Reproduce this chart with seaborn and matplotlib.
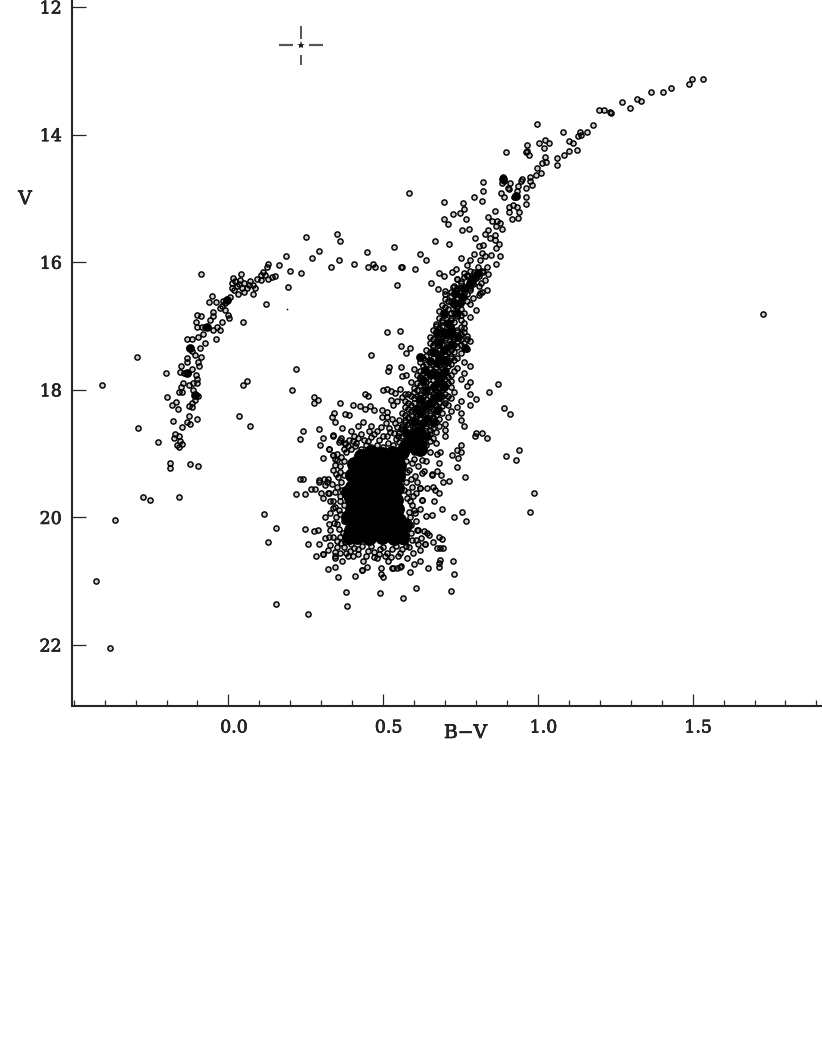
import matplotlib
matplotlib.use("Agg")
import matplotlib.pyplot as plt
import matplotlib.patheffects as pe
from matplotlib.ticker import MultipleLocator, FixedLocator
from matplotlib.transforms import ScaledTranslation
import pandas as pd
import seaborn as sns

# (B-V, V), one list per part of the diagram
giant_tip = [
    (1.533, 13.13), (1.498, 13.13), (1.488, 13.21), (1.430, 13.27), (1.403, 13.33), (1.366, 13.33),
    (1.333, 13.48), (1.321, 13.44), (1.297, 13.59), (1.271, 13.49), (1.235, 13.66), (1.233, 13.65),
    (1.214, 13.62), (1.199, 13.62), (1.177, 13.85), (1.160, 13.96), (1.137, 13.96), (1.140, 14.01),
    (1.128, 14.02), (1.126, 14.245), (1.080, 13.96), (1.102, 14.10), (1.115, 14.13), (1.099, 14.255),
    (1.084, 14.32), (1.063, 14.37), (1.063, 14.47), (0.997, 13.84), (1.022, 14.08), (1.036, 14.13),
    (1.002, 14.13), (1.019, 14.21), (0.964, 14.17), (0.962, 14.27), (0.966, 14.25), (0.972, 14.32),
    (0.897, 14.27), (1.023, 14.355), (1.027, 14.43), (1.014, 14.45), (0.997, 14.52), (1.009, 14.60),
    (0.995, 14.64), (0.975, 14.67), (0.973, 14.73), (0.981, 14.79), (0.949, 14.70), (0.944, 14.72),
    (0.961, 14.84), (0.936, 14.81), (0.934, 14.88), (0.963, 14.97), (0.960, 15.09), (0.926, 14.96),
    (0.922, 14.98), (0.887, 14.67), (0.889, 14.72), (0.884, 14.76), (0.910, 14.76), (0.903, 14.83),
    (0.906, 14.86), (0.881, 14.91), (0.890, 14.97), (0.824, 14.74), (0.822, 14.88), (0.821, 15.04),
    (0.794, 14.97), (0.583, 14.91), (0.698, 15.05), (0.758, 15.07), (0.762, 15.17), (0.747, 15.23),
    (0.727, 15.25), (0.697, 15.32), (0.711, 15.40), (0.769, 15.32), (0.754, 15.50), (0.777, 15.48),
    (0.907, 15.13), (0.921, 15.11), (0.934, 15.13), (0.906, 15.21), (0.938, 15.21), (0.916, 15.32),
    (0.936, 15.30), (0.860, 15.20), (0.838, 15.29), (0.852, 15.35), (0.867, 15.36), (0.864, 15.43),
    (0.879, 15.38), (0.884, 15.48), (0.838, 15.50), (0.828, 15.55), (0.863, 15.57), (0.796, 15.62),
    (0.846, 15.62), (0.860, 15.65), (0.874, 15.71), (0.864, 15.78), (0.822, 15.73), (0.809, 15.74),
    (0.666, 15.66), (0.712, 15.71), (0.620, 15.87), (0.637, 15.96), (0.560, 16.08), (0.604, 16.11),
    (0.750, 15.94), (0.879, 15.91), (0.864, 16.03), (0.847, 15.89), (0.829, 15.91), (0.819, 15.86),
    (0.794, 15.87), (0.781, 15.96), (0.771, 16.04), (0.813, 15.96), (0.808, 16.07), (0.837, 16.07),
    (0.824, 16.16), (0.792, 16.15), (0.681, 16.17), (0.697, 16.22), (0.724, 16.16), (0.735, 16.10),
    (0.738, 16.27), (0.653, 16.33), (0.678, 16.42), (0.699, 16.445), (0.725, 16.39), (0.747, 16.41),
    (0.770, 16.22), (0.786, 16.30), (0.781, 16.38), (0.817, 16.32), (0.837, 16.43), (0.813, 16.49),
    (0.754, 16.51), (0.736, 16.49),
]

horizontal_branch = [
    (0.250, 15.60), (0.351, 15.55), (0.360, 15.66), (0.535, 15.755), (0.447, 15.84), (0.292, 15.82),
    (0.269, 15.94), (0.186, 15.90), (0.357, 15.96), (0.333, 16.08), (0.405, 16.03), (0.450, 16.07),
    (0.467, 16.03), (0.474, 16.08), (0.500, 16.09), (0.559, 16.08), (0.546, 16.35), (0.235, 16.17),
    (0.200, 16.13), (0.162, 16.05), (0.194, 16.39), (0.121, 16.65), (0.128, 16.03), (0.126, 16.07),
    (0.113, 16.15), (0.105, 16.20), (0.105, 16.28), (0.092, 16.27), (0.151, 16.215), (0.140, 16.23),
    (0.129, 16.26), (0.119, 16.20), (0.087, 16.40), (0.078, 16.50), (0.078, 16.36), (0.070, 16.29),
    (0.059, 16.41), (0.049, 16.33), (0.042, 16.18), (0.038, 16.28), (0.027, 16.38), (0.030, 16.50),
    (0.016, 16.25), (0.011, 16.33), (0.011, 16.41), (0.049, 16.46), (0.020, 16.30), (0.033, 16.34),
    (0.044, 16.40), (0.018, 16.44), (0.065, 16.35), (-0.087, 16.19), (0.047, 16.93), (-0.054, 16.53),
    (-0.064, 16.62), (-0.040, 16.63), (-0.016, 16.61), (-0.005, 16.59), (0.006, 16.55), (-0.012, 16.64),
    (-0.027, 16.72), (-0.011, 16.75), (0.000, 16.83), (0.003, 16.88), (-0.020, 16.68), (-0.049, 16.78),
    (-0.050, 16.85), (-0.101, 16.82), (-0.087, 16.85), (-0.104, 16.94), (-0.061, 16.90), (-0.022, 16.93),
    (-0.037, 17.01), (-0.075, 17.01), (-0.086, 17.02), (-0.101, 17.02), (-0.051, 17.06), (-0.027, 17.06),
    (-0.083, 17.13), (-0.098, 17.17), (-0.040, 17.20), (-0.118, 17.21), (-0.134, 17.21), (-0.076, 17.26),
    (-0.126, 17.35), (-0.118, 17.39), (-0.091, 17.35), (-0.134, 17.50), (-0.134, 17.56), (-0.107, 17.45),
    (-0.089, 17.49), (-0.097, 17.56), (-0.095, 17.62), (-0.153, 17.62), (-0.155, 17.72), (-0.142, 17.73),
    (-0.129, 17.74), (-0.118, 17.68), (-0.104, 17.77), (-0.102, 17.83), (-0.115, 17.89), (-0.100, 17.90),
    (-0.148, 17.90), (-0.154, 17.95), (-0.126, 17.92), (-0.161, 18.04), (-0.151, 18.04), (-0.113, 18.00),
    (-0.104, 18.08), (-0.097, 18.09), (-0.107, 18.16), (-0.118, 18.20), (-0.127, 18.26), (-0.119, 18.27),
    (-0.170, 18.19), (-0.183, 18.23), (-0.163, 18.30), (-0.197, 18.11), (-0.202, 17.74), (-0.295, 17.48),
    (-0.408, 17.92), (-0.127, 18.41), (-0.102, 18.45), (-0.134, 18.50), (-0.124, 18.53), (-0.180, 18.49),
    (-0.150, 18.58), (-0.293, 18.60), (-0.228, 18.82), (-0.172, 18.69), (-0.159, 18.72), (-0.177, 18.76),
    (-0.156, 18.80), (-0.149, 18.85), (-0.167, 18.86), (-0.161, 18.89),
]

outliers = [
    (0.061, 17.86), (0.047, 17.93), (0.034, 18.41), (0.071, 18.56), (0.219, 17.68), (0.207, 18.00),
    (0.277, 18.11), (0.291, 18.16), (0.277, 18.20), (0.241, 18.65), (0.232, 18.77), (0.512, 17.10),
    (0.555, 17.08), (0.461, 17.45), (0.557, 17.32), (0.588, 17.34), (0.575, 17.42), (-0.366, 20.04),
    (-0.276, 19.68), (-0.253, 19.73), (-0.427, 21.00), (-0.382, 22.04), (-0.159, 19.68), (-0.188, 19.15),
    (-0.188, 19.22), (-0.124, 19.16), (-0.098, 19.19), (0.115, 19.95), (0.128, 20.39), (0.154, 20.17),
    (0.154, 21.36), (0.257, 21.51), (1.727, 16.81), (0.987, 19.62), (0.974, 19.92), (0.898, 19.03),
    (0.940, 18.95), (0.930, 19.10), (0.870, 17.91), (0.841, 18.03), (0.889, 18.29), (0.910, 18.38),
    (0.520, 17.64), (0.517, 17.71), (0.558, 17.64), (0.562, 17.79), (0.574, 17.77), (0.359, 18.21),
    (0.404, 18.23), (0.442, 18.06), (0.451, 18.09), (0.499, 18.01), (0.512, 17.99), (0.526, 18.02),
    (0.525, 18.16), (0.539, 18.05), (0.553, 17.98), (0.560, 18.11), (0.572, 18.07), (0.546, 18.18),
    (0.533, 18.24), (0.425, 18.26), (0.442, 18.30), (0.458, 18.25), (0.472, 18.31), (0.495, 18.31),
    (0.512, 18.34), (0.495, 18.43), (0.514, 18.43), (0.334, 18.43), (0.341, 18.37), (0.345, 18.50),
    (0.377, 18.38), (0.390, 18.39), (0.368, 18.60), (0.293, 18.61), (0.307, 18.75), (0.296, 18.86),
    (0.337, 18.72), (0.325, 18.93), (0.359, 18.79), (0.377, 18.85), (0.364, 18.76), (0.396, 18.65),
    (0.420, 18.57), (0.436, 18.50), (0.461, 18.57), (0.493, 18.58), (0.539, 18.52), (0.571, 18.47),
]

# outer stars of the main sequence clump
clump_edge = [
    (0.307, 19.07), (0.339, 19.02), (0.345, 19.09), (0.232, 19.40), (0.240, 19.40), (0.294, 19.41),
    (0.310, 19.39), (0.323, 19.39), (0.294, 19.45), (0.312, 19.49), (0.219, 19.64), (0.247, 19.64),
    (0.266, 19.56), (0.281, 19.55), (0.298, 19.61), (0.321, 19.62), (0.307, 19.70), (0.329, 19.75),
    (0.345, 19.83), (0.312, 19.99), (0.329, 19.93), (0.248, 20.18), (0.277, 20.21), (0.289, 20.19),
    (0.312, 20.32), (0.256, 20.42), (0.292, 20.41), (0.282, 20.60), (0.305, 20.58), (0.323, 20.51),
    (0.329, 20.43), (0.345, 20.61), (0.366, 20.69), (0.321, 20.81), (0.343, 20.78), (0.353, 20.94),
    (0.380, 21.17), (0.382, 21.39), (0.408, 20.91), (0.431, 20.83), (0.447, 20.78), (0.493, 20.80),
    (0.490, 21.19), (0.492, 20.88), (0.498, 20.94), (0.533, 20.79), (0.546, 20.79), (0.558, 20.76),
    (0.588, 20.85), (0.601, 20.73), (0.619, 20.69), (0.646, 20.79), (0.682, 20.77), (0.684, 20.66),
    (0.682, 20.72), (0.725, 20.69), (0.729, 20.88), (0.720, 21.15), (0.606, 21.11), (0.564, 21.27),
    (0.684, 20.48), (0.674, 20.48), (0.694, 20.48), (0.689, 20.34), (0.682, 20.31), (0.661, 20.39),
    (0.635, 20.41), (0.641, 20.25), (0.632, 20.22), (0.648, 20.27), (0.611, 20.20), (0.603, 19.93),
    (0.637, 19.97), (0.658, 19.96), (0.689, 19.87), (0.728, 20.00), (0.754, 19.92), (0.767, 20.05),
    (0.664, 19.75), (0.625, 19.73), (0.619, 19.54), (0.641, 19.54), (0.660, 19.53), (0.668, 19.57),
    (0.681, 19.61), (0.693, 19.45), (0.713, 19.43), (0.765, 19.37), (0.739, 19.21), (0.686, 19.33),
    (0.673, 19.27), (0.658, 19.32), (0.633, 19.27), (0.682, 19.14), (0.722, 19.02), (0.741, 19.07),
    (0.738, 18.95), (0.752, 18.87), (0.751, 18.98), (0.673, 19.00), (0.684, 18.98), (0.797, 18.72),
    (0.799, 18.67), (0.819, 18.67), (0.837, 18.76), (0.337, 18.71), (0.325, 18.93), (0.358, 18.81),
    (0.377, 18.84), (0.339, 19.02), (0.350, 19.10), (0.339, 19.26), (0.361, 19.20), (0.320, 19.44),
    (0.326, 19.62), (0.350, 19.52), (0.339, 19.75), (0.348, 19.99), (0.329, 20.20), (0.345, 20.54),
    (0.305, 20.57), (0.345, 20.64), (0.388, 20.61), (0.404, 20.61), (0.436, 20.69), (0.431, 20.82),
    (0.469, 20.54), (0.479, 20.64), (0.506, 20.61), (0.517, 20.69), (0.528, 20.79), (0.555, 20.77),
    (0.555, 20.56), (0.576, 20.64), (0.619, 20.51), (0.636, 20.41), (0.566, 19.57), (0.592, 19.52),
    (0.619, 19.54), (0.598, 19.67), (0.625, 19.73), (0.592, 19.81), (0.619, 19.86), (0.587, 19.99),
    (0.609, 20.20), (0.592, 20.35), (0.614, 20.41), (0.576, 19.28), (0.592, 19.15), (0.625, 19.31),
    (0.657, 19.33), (0.355, 19.36), (0.360, 19.66), (0.358, 19.88), (0.352, 20.10), (0.360, 20.30),
    (0.372, 20.47), (0.392, 20.52), (0.420, 20.50), (0.450, 20.52), (0.490, 20.50), (0.530, 20.50),
    (0.575, 20.45), (0.590, 20.25), (0.580, 20.08), (0.578, 19.70), (0.575, 19.45), (0.390, 18.78),
    (0.412, 18.83), (0.437, 18.78), (0.462, 18.74), (0.487, 18.78), (0.512, 18.72), (0.535, 18.68),
]

clump_fringe = [
    (0.352, 19.00), (0.365, 19.05), (0.372, 18.93), (0.345, 19.18), (0.362, 19.28), (0.372, 19.12),
    (0.348, 19.32), (0.335, 19.47), (0.365, 19.44), (0.372, 19.33), (0.345, 19.60), (0.368, 19.57),
    (0.360, 19.75), (0.372, 19.80), (0.338, 19.85), (0.362, 19.95), (0.372, 20.05), (0.340, 20.08),
    (0.325, 20.10), (0.358, 20.18), (0.370, 20.24), (0.338, 20.30), (0.350, 20.37), (0.365, 20.40),
    (0.325, 20.30), (0.352, 20.47), (0.362, 20.55), (0.378, 20.38), (0.380, 20.55), (0.395, 20.42),
    (0.405, 20.48), (0.418, 20.57), (0.432, 20.44), (0.445, 20.60), (0.462, 20.45), (0.470, 20.62),
    (0.485, 20.57), (0.500, 20.46), (0.512, 20.55), (0.525, 20.62), (0.540, 20.44), (0.548, 20.60),
    (0.562, 20.50), (0.572, 20.38), (0.585, 20.47), (0.598, 20.55), (0.605, 20.35), (0.622, 20.32),
    (0.590, 20.12), (0.605, 20.05), (0.582, 19.92), (0.600, 19.88), (0.588, 19.75), (0.605, 19.62),
    (0.580, 19.60), (0.590, 19.40), (0.603, 19.35), (0.612, 19.20), (0.585, 19.25), (0.600, 19.08),
    (0.575, 19.12), (0.625, 19.10), (0.640, 19.12), (0.610, 19.45), (0.380, 18.98), (0.395, 18.92),
    (0.410, 18.88), (0.428, 18.92), (0.445, 18.87), (0.462, 18.90), (0.480, 18.86), (0.498, 18.89),
    (0.515, 18.84), (0.533, 18.87), (0.550, 18.82), (0.385, 18.88), (0.402, 18.80), (0.420, 18.76),
    (0.450, 18.80), (0.470, 18.70), (0.500, 18.72), (0.522, 18.66), (0.548, 18.72), (0.558, 18.62),
    (0.545, 18.58), (0.520, 18.60), (0.480, 18.65), (0.510, 18.52), (0.530, 18.45), (0.455, 18.65),
    (0.430, 18.70), (0.405, 18.72),
]

giant_band = [
    (0.76, 16.17), (0.78, 16.13), (0.80, 16.19), (0.82, 16.14), (0.84, 16.18), (0.74, 16.27),
    (0.76, 16.23), (0.78, 16.29), (0.80, 16.24), (0.83, 16.28), (0.73, 16.37), (0.75, 16.33),
    (0.77, 16.38), (0.79, 16.34), (0.81, 16.37), (0.72, 16.47), (0.74, 16.43), (0.76, 16.48),
    (0.78, 16.44), (0.82, 16.46), (0.70, 16.57), (0.72, 16.53), (0.74, 16.58), (0.76, 16.54),
    (0.79, 16.56), (0.81, 16.52), (0.69, 16.67), (0.72, 16.63), (0.74, 16.68), (0.75, 16.62),
    (0.78, 16.66), (0.68, 16.77), (0.71, 16.73), (0.73, 16.78), (0.75, 16.74), (0.76, 16.79),
    (0.80, 16.75), (0.68, 16.87), (0.70, 16.83), (0.72, 16.88), (0.74, 16.84), (0.78, 16.86),
    (0.67, 16.97), (0.69, 16.93), (0.71, 16.98), (0.73, 16.94), (0.76, 16.96), (0.66, 17.07),
    (0.68, 17.03), (0.70, 17.08), (0.72, 17.04), (0.74, 17.07), (0.76, 17.03), (0.65, 17.17),
    (0.67, 17.13), (0.69, 17.18), (0.71, 17.14), (0.73, 17.17), (0.75, 17.13), (0.77, 17.16),
    (0.65, 17.27), (0.67, 17.23), (0.69, 17.28), (0.70, 17.22), (0.72, 17.26), (0.74, 17.23),
    (0.76, 17.27), (0.78, 17.24), (0.64, 17.37), (0.66, 17.33), (0.68, 17.38), (0.70, 17.34),
    (0.72, 17.37), (0.74, 17.33), (0.77, 17.36), (0.64, 17.47), (0.66, 17.43), (0.68, 17.48),
    (0.70, 17.44), (0.72, 17.47), (0.75, 17.43), (0.62, 17.57), (0.65, 17.53), (0.67, 17.58),
    (0.69, 17.54), (0.71, 17.57), (0.73, 17.53), (0.76, 17.56), (0.60, 17.67), (0.63, 17.63),
    (0.65, 17.68), (0.67, 17.64), (0.69, 17.67), (0.71, 17.63), (0.74, 17.66), (0.78, 17.62),
    (0.61, 17.77), (0.63, 17.73), (0.65, 17.78), (0.66, 17.72), (0.68, 17.76), (0.70, 17.73),
    (0.72, 17.77), (0.76, 17.74), (0.59, 17.87), (0.62, 17.83), (0.64, 17.88), (0.66, 17.84),
    (0.68, 17.87), (0.70, 17.83), (0.72, 17.86), (0.75, 17.83), (0.78, 17.88), (0.60, 17.97),
    (0.62, 17.93), (0.64, 17.98), (0.66, 17.94), (0.68, 17.97), (0.70, 17.93), (0.72, 17.96),
    (0.77, 17.94), (0.58, 18.07), (0.60, 18.03), (0.62, 18.08), (0.64, 18.04), (0.66, 18.07),
    (0.68, 18.03), (0.70, 18.06), (0.73, 18.03), (0.78, 18.07), (0.57, 18.17), (0.60, 18.13),
    (0.62, 18.18), (0.64, 18.14), (0.66, 18.17), (0.68, 18.13), (0.70, 18.16), (0.72, 18.13),
    (0.75, 18.17), (0.80, 18.14), (0.57, 18.27), (0.59, 18.23), (0.61, 18.28), (0.63, 18.24),
    (0.65, 18.27), (0.67, 18.23), (0.69, 18.26), (0.71, 18.23), (0.74, 18.27), (0.78, 18.24),
    (0.56, 18.37), (0.59, 18.33), (0.61, 18.38), (0.63, 18.34), (0.65, 18.37), (0.67, 18.33),
    (0.69, 18.36), (0.72, 18.33), (0.75, 18.37), (0.55, 18.47), (0.58, 18.43), (0.60, 18.48),
    (0.62, 18.44), (0.64, 18.47), (0.66, 18.43), (0.68, 18.46), (0.71, 18.43), (0.75, 18.47),
    (0.56, 18.57), (0.58, 18.53), (0.60, 18.58), (0.62, 18.54), (0.64, 18.57), (0.66, 18.53),
    (0.68, 18.56), (0.70, 18.53), (0.76, 18.57), (0.55, 18.67), (0.57, 18.63), (0.59, 18.68),
    (0.61, 18.64), (0.63, 18.67), (0.65, 18.63), (0.67, 18.66), (0.70, 18.63), (0.54, 18.77),
    (0.56, 18.73), (0.58, 18.78), (0.60, 18.74), (0.62, 18.77), (0.64, 18.73), (0.66, 18.76),
    (0.70, 18.73), (0.56, 18.87), (0.58, 18.83), (0.60, 18.88), (0.62, 18.84), (0.64, 18.87),
    (0.67, 18.83), (0.56, 18.97), (0.58, 18.93), (0.60, 18.98), (0.62, 18.94), (0.65, 18.97),
]

giant_fill = [
    (0.77, 16.20), (0.81, 16.22), (0.75, 16.30), (0.79, 16.31), (0.74, 16.40), (0.78, 16.41),
    (0.70, 16.50), (0.73, 16.50), (0.77, 16.50), (0.71, 16.60), (0.73, 16.60), (0.77, 16.61),
    (0.70, 16.70), (0.74, 16.70), (0.72, 16.80), (0.75, 16.82), (0.69, 16.90), (0.72, 16.91),
    (0.75, 16.90), (0.67, 17.00), (0.69, 17.00), (0.72, 17.00), (0.75, 17.01), (0.68, 17.10),
    (0.70, 17.10), (0.72, 17.11), (0.74, 17.10), (0.76, 17.10), (0.66, 17.20), (0.68, 17.20),
    (0.70, 17.19), (0.73, 17.20), (0.75, 17.20), (0.77, 17.21), (0.66, 17.30), (0.68, 17.30),
    (0.71, 17.31), (0.73, 17.30), (0.75, 17.30), (0.65, 17.40), (0.67, 17.40), (0.69, 17.41),
    (0.71, 17.40), (0.73, 17.40), (0.63, 17.50), (0.66, 17.50), (0.68, 17.50), (0.70, 17.51),
    (0.72, 17.50), (0.74, 17.50), (0.64, 17.60), (0.66, 17.60), (0.68, 17.61), (0.70, 17.60),
    (0.72, 17.60), (0.62, 17.70), (0.64, 17.70), (0.66, 17.70), (0.68, 17.71), (0.70, 17.70),
    (0.73, 17.70), (0.62, 17.80), (0.64, 17.80), (0.67, 17.80), (0.69, 17.81), (0.71, 17.80),
    (0.61, 17.90), (0.63, 17.90), (0.65, 17.91), (0.67, 17.90), (0.69, 17.90), (0.71, 17.90),
    (0.61, 18.00), (0.63, 18.00), (0.65, 18.01), (0.67, 18.00), (0.69, 18.00), (0.59, 18.10),
    (0.61, 18.10), (0.63, 18.11), (0.65, 18.10), (0.67, 18.10), (0.69, 18.10), (0.71, 18.10),
    (0.58, 18.20), (0.60, 18.20), (0.62, 18.21), (0.64, 18.20), (0.66, 18.20), (0.68, 18.20),
    (0.70, 18.20), (0.58, 18.30), (0.60, 18.30), (0.62, 18.31), (0.64, 18.30), (0.66, 18.30),
    (0.68, 18.30), (0.57, 18.40), (0.59, 18.40), (0.61, 18.41), (0.63, 18.40), (0.65, 18.40),
    (0.67, 18.40), (0.57, 18.50), (0.59, 18.50), (0.61, 18.51), (0.63, 18.50), (0.65, 18.50),
    (0.67, 18.50), (0.56, 18.60), (0.58, 18.60), (0.60, 18.61), (0.62, 18.60), (0.64, 18.60),
    (0.66, 18.60), (0.57, 18.70), (0.59, 18.71), (0.61, 18.70), (0.63, 18.70), (0.65, 18.70),
    (0.57, 18.80), (0.59, 18.80), (0.61, 18.81), (0.63, 18.80), (0.65, 18.80),
]

# overplotted stars that read as solid black
clump_core = [
    (0.430, 19.03), (0.460, 18.98), (0.495, 19.01), (0.530, 18.99), (0.405, 19.17), (0.445, 19.16),
    (0.485, 19.18), (0.525, 19.16), (0.550, 19.20), (0.400, 19.34), (0.440, 19.35), (0.480, 19.33),
    (0.520, 19.36), (0.548, 19.35), (0.398, 19.52), (0.438, 19.53), (0.478, 19.51), (0.518, 19.52),
    (0.545, 19.54), (0.397, 19.70), (0.437, 19.69), (0.477, 19.71), (0.517, 19.70), (0.540, 19.72),
    (0.398, 19.87), (0.438, 19.88), (0.478, 19.86), (0.518, 19.88), (0.545, 19.87), (0.396, 20.04),
    (0.436, 20.05), (0.476, 20.03), (0.516, 20.05), (0.552, 20.04), (0.397, 20.20), (0.437, 20.21),
    (0.477, 20.20), (0.517, 20.21), (0.555, 20.20), (0.415, 20.31), (0.455, 20.32), (0.495, 20.31),
    (0.535, 20.32), (0.575, 18.88), (0.600, 18.74), (0.618, 18.92), (0.425, 19.08), (0.465, 19.08),
    (0.505, 19.08), (0.545, 19.08), (0.420, 19.25), (0.460, 19.25), (0.500, 19.26), (0.540, 19.26),
    (0.420, 19.43), (0.460, 19.43), (0.500, 19.44), (0.535, 19.45), (0.418, 19.61), (0.458, 19.61),
    (0.498, 19.61), (0.530, 19.62), (0.418, 19.79), (0.458, 19.79), (0.498, 19.79), (0.530, 19.80),
    (0.418, 19.96), (0.458, 19.96), (0.498, 19.96), (0.535, 19.96), (0.416, 20.12), (0.456, 20.12),
    (0.496, 20.13), (0.535, 20.12), (0.385, 19.60), (0.385, 20.00), (0.390, 20.30), (0.560, 20.30),
    (0.570, 20.12), (0.560, 18.98), (0.590, 18.82), (0.610, 18.70),
]

giant_dark = [
    (0.673, 17.09), (0.695, 17.11), (0.716, 17.14), (0.743, 17.17), (0.765, 17.35), (0.749, 16.64),
    (0.754, 16.54), (0.733, 16.49), (0.781, 16.33), (0.808, 16.17), (0.695, 17.38), (0.673, 17.58),
    (0.620, 17.48), (0.636, 17.69), (0.663, 17.95), (0.630, 17.85), (0.652, 18.21), (0.620, 18.37),
    (0.630, 18.52), (0.576, 18.68), (0.598, 18.84), (0.684, 17.79), (0.684, 17.48), (0.663, 18.11),
    (0.673, 18.32), (0.641, 18.73), (0.695, 17.95), (0.620, 18.63), (0.738, 16.80), (0.695, 16.80),
    (0.650, 17.75), (0.670, 17.75), (0.700, 17.70), (0.640, 18.00), (0.680, 18.10), (0.620, 18.15),
    (0.640, 18.45), (0.600, 18.50), (0.660, 18.50), (0.610, 18.30), (0.650, 17.55), (0.700, 17.55),
    (0.720, 17.30), (0.680, 17.25), (0.710, 16.95), (0.730, 16.65), (0.760, 16.40), (0.790, 16.25),
    (0.600, 18.95), (0.630, 18.85), (0.580, 18.85), (0.640, 18.25), (0.680, 17.90), (0.660, 17.40),
    (0.720, 17.05), (-0.107, 18.08), (-0.124, 17.35), (-0.134, 17.74), (-0.005, 16.59), (-0.070, 17.01),
    (0.930, 14.96), (0.887, 14.70),
]

stray_dot = [(0.189, 16.73)]

star_bv, star_v = 0.234, 12.60
star_arms_bv = [0.026, 0.071]
star_arms_v_up = [0.10, 0.30]
star_arms_v_down = [0.15, 0.31]

x_major = [0.0, 0.5, 1.0, 1.5]
y_major = [12, 14, 16, 18, 20, 22]


def to_frame(*groups):
    rows = [p for g in groups for p in g]
    return pd.DataFrame(rows, columns=["bv", "v"])


sns.set_style("ticks")
plt.rcParams["font.family"] = ["DejaVu Serif"]

fig = plt.figure(figsize=(8.22, 10.64), dpi=100)
ax = fig.add_axes([71.5 / 822, 1 - 706.3 / 1064, (822 - 71.5) / 822, 706.3 / 1064])

sns.scatterplot(data=to_frame(clump_core), x="bv", y="v", s=115, color="black", linewidth=0, ax=ax, legend=False)
sns.scatterplot(data=to_frame(giant_dark), x="bv", y="v", s=40, color="black", linewidth=0, ax=ax, legend=False)
sns.scatterplot(data=to_frame(giant_tip, horizontal_branch, outliers, clump_edge, clump_fringe, giant_band, giant_fill),
                x="bv", y="v", s=14, facecolor=(0, 0, 0, 0.2), edgecolor="black", linewidth=1.05, ax=ax, legend=False)
sns.scatterplot(data=to_frame(stray_dot), x="bv", y="v", s=1.5, color="black", linewidth=0, ax=ax, legend=False)

# error cross with the star marker in the middle
arm_color = "#555555"
for sign in (-1, 1):
    ax.plot([star_bv + sign * a for a in star_arms_bv], [star_v, star_v], color=arm_color, lw=1.6,
            solid_capstyle="butt")
ax.plot([star_bv, star_bv], [star_v - a for a in star_arms_v_up], color=arm_color, lw=1.4, solid_capstyle="butt")
ax.plot([star_bv, star_bv], [star_v + a for a in star_arms_v_down], color=arm_color, lw=1.4, solid_capstyle="butt")
ax.plot([star_bv], [star_v], marker="*", ms=6, color="#222222", mew=0)

ax.set_xlim(-0.507, 1.918)
ax.set_ylim(22.96, 11.89)

for side in ("top", "right"):
    ax.spines[side].set_visible(False)
ax.spines["left"].set_linewidth(1.5)
ax.spines["bottom"].set_linewidth(1.5)

ax.xaxis.set_major_locator(FixedLocator(x_major))
ax.xaxis.set_minor_locator(MultipleLocator(0.1))
ax.yaxis.set_major_locator(FixedLocator(y_major))
ax.set_xticklabels([f"{t:.1f}" for t in x_major])
ax.set_yticklabels([str(t) for t in y_major])
ax.tick_params(axis="x", which="major", direction="in", length=8.5, width=0.9, pad=9.5, labelsize=12.5)
ax.tick_params(axis="x", which="minor", direction="in", length=4.3, width=0.9)
ax.tick_params(axis="y", which="major", direction="in", length=10, width=0.9, pad=7, labelsize=12.5)

# the x labels sit a little to the right of their ticks in the original
shift = ScaledTranslation(5.5 / 100, 0, fig.dpi_scale_trans)
for label in ax.get_xticklabels():
    label.set_transform(label.get_transform() + shift)

ax.set_xlabel("B\u2212V", fontsize=13.5, va="center")
ax.xaxis.set_label_coords(0.525, -0.0378)
ax.set_ylabel("V", fontsize=13.5, rotation=0, va="center", ha="center")
ax.yaxis.set_label_coords(-0.062, 0.718)

# scanned type is heavier than DejaVu Serif regular
heavier = [pe.withStroke(linewidth=0.45, foreground="black")]
for label in ax.get_xticklabels() + ax.get_yticklabels() + [ax.xaxis.label, ax.yaxis.label]:
    label.set_path_effects(heavier)

fig.savefig("out.png", dpi=100, facecolor="white")
